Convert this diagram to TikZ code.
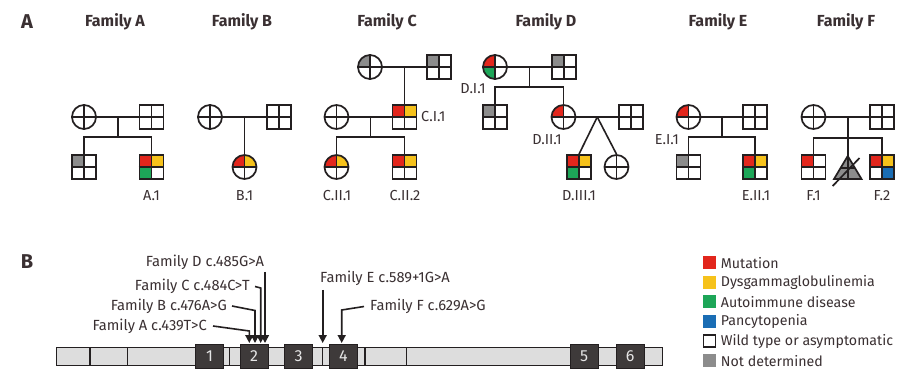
\documentclass[tikz,border=0pt]{standalone}
\usepackage{fontspec}
\setmainfont{Fira Sans}
\usetikzlibrary{arrows.meta,calc}
\definecolor{mut}{HTML}{E2261C}
\definecolor{dys}{HTML}{F6C21B}
\definecolor{aut}{HTML}{1DA658}
\definecolor{pan}{HTML}{1A6DB4}
\definecolor{nd}{HTML}{8C8C8C}
\definecolor{ink}{HTML}{231F20}
\definecolor{txt}{HTML}{3A3032}
\definecolor{exonc}{HTML}{3E3A3A}
\definecolor{intron}{HTML}{DDDDDD}
\tikzset{
  sym/.style={draw=ink, line width=1.7pt},
  psq/.style={sym, rectangle, minimum size=24pt, inner sep=0pt},
  pci/.style={sym, circle, minimum size=24pt, inner sep=0pt},
  con/.style={draw=ink, line width=1.6pt},
  lab/.style={text=txt, font=\fontsize{14.5}{16}\selectfont, inner sep=0pt},
  ttl/.style={text=txt, font=\fontsize{16}{18}\selectfont\bfseries, inner sep=0pt},
  pnl/.style={text=txt, font=\fontsize{20}{22}\selectfont\bfseries, inner sep=0pt},
  glab/.style={text=txt, font=\fontsize{14.7}{16}\selectfont, inner sep=0pt},
  arr/.style={draw=ink, line width=1.6pt, -{Triangle[length=8pt,width=8pt]}},
  exonbox/.style={draw=ink, line width=1pt, fill=exonc, text=white!90!black, minimum width=28pt, minimum height=24pt, inner sep=0pt, font=\fontsize{16}{16}\selectfont},
  legbox/.style={minimum size=13pt, inner sep=0pt},
  legtxt/.style={text=txt, font=\fontsize{14.2}{16}\selectfont, inner sep=0pt, anchor=west}
}
\newcommand{\PSq}[7]{%
  \fill[#4] (#2,#3) rectangle ++(-12,-12);
  \fill[#5] (#2,#3) rectangle ++(12,-12);
  \fill[#6] (#2,#3) rectangle ++(-12,12);
  \fill[#7] (#2,#3) rectangle ++(12,12);
  \node[psq] (#1) at (#2,#3) {};
  \draw[sym] (#1.north) -- (#1.south) (#1.west) -- (#1.east);
}
\newcommand{\PCi}[7]{%
  \fill[#4] (#2,#3) -- ++(-12,0) arc[start angle=180,end angle=270,radius=12] -- cycle;
  \fill[#5] (#2,#3) -- ++(0,-12) arc[start angle=270,end angle=360,radius=12] -- cycle;
  \fill[#6] (#2,#3) -- ++(0,12) arc[start angle=90,end angle=180,radius=12] -- cycle;
  \fill[#7] (#2,#3) -- ++(12,0) arc[start angle=0,end angle=90,radius=12] -- cycle;
  \node[pci] (#1) at (#2,#3) {};
  \draw[sym] (#1.north) -- (#1.south) (#1.west) -- (#1.east);
}
\begin{document}
\begin{tikzpicture}[x=1pt,y=-1pt]
\useasboundingbox (0,0) rectangle (900,374);
\fill[white] (0,0) rectangle (900,374);
% panel labels and titles
\node[pnl] (pA) at (27,22) {A};
\node[pnl] (pB) at (27,262) {B};
\node[ttl] (tA) at (115,22) {Family A};
\node[ttl] (tB) at (242,22) {Family B};
\node[ttl] (tC) at (387,22) {Family C};
\node[ttl] (tD) at (546,22) {Family D};
\node[ttl] (tE) at (718,22) {Family E};
\node[ttl] (tF) at (846,22) {Family F};
% ---------- Family A
\PCi{A1}{84}{117}{white}{white}{white}{white}
\PSq{A2}{151.5}{117}{white}{white}{white}{white}
\PSq{A3}{84}{167}{nd}{white}{white}{white}
\PSq{A4}{151.5}{167}{mut}{dys}{aut}{white}
\draw[con] (A1) -- (A2);
\coordinate (mA) at ($(A1)!0.5!(A2)$);
\coordinate (sA) at (117.75,137);
\draw[con] (mA) -- (sA);
\draw[con] (A3) |- (sA) -| (A4);
\node[lab] (lA) at (151.5,196) {A.1};
% ---------- Family B
\PCi{B1}{210}{117}{white}{white}{white}{white}
\PSq{B2}{279}{117}{white}{white}{white}{white}
\PCi{B3}{244.5}{167}{mut}{dys}{white}{white}
\draw[con] (B1) -- (B2);
\coordinate (mB) at ($(B1)!0.5!(B2)$);
\draw[con] (mB) -- (B3);
\node[lab] (lB) at (244.5,196) {B.1};
% ---------- Family C
\PCi{C1}{370}{67}{nd}{white}{white}{white}
\PSq{C2}{439}{67}{nd}{white}{white}{white}
\PCi{C4}{336.5}{117}{white}{white}{white}{white}
\PSq{C3}{404.5}{117}{mut}{dys}{white}{white}
\PCi{C5}{336.5}{167}{mut}{dys}{white}{white}
\PSq{C6}{404.5}{167}{mut}{dys}{white}{white}
\draw[con] (C1) -- (C2);
\coordinate (mC) at ($(C1)!0.5!(C2)$);
\draw[con] (mC) -- (C3);
\draw[con] (C4) -- (C3);
\coordinate (mC2) at ($(C4)!0.5!(C3)$);
\coordinate (sC) at (370.5,137);
\draw[con] (mC2) -- (sC);
\draw[con] (C5) |- (sC) -| (C6);
\node[lab, anchor=west] (lC1) at (421,117) {C.I.1};
\node[lab] (lC2) at (337,196) {C.II.1};
\node[lab] (lC3) at (405,196) {C.II.2};
% ---------- Family D
\PCi{D1}{495}{67}{mut}{white}{aut}{white}
\PSq{D2}{564}{67}{nd}{white}{white}{white}
\PSq{D3}{495}{117}{nd}{white}{white}{white}
\PCi{D4}{563.5}{117}{mut}{white}{white}{white}
\PSq{D5}{631}{117}{white}{white}{white}{white}
\PSq{D6}{579}{167}{mut}{dys}{aut}{white}
\PCi{D7}{616.5}{167}{white}{white}{white}{white}
\draw[con] (D1) -- (D2);
\coordinate (mD) at ($(D1)!0.5!(D2)$);
\coordinate (sD) at (529.5,87);
\draw[con] (mD) -- (sD);
\draw[con] (D3) |- (sD) -| (D4);
\draw[con] (D4) -- (D5);
\coordinate (tw) at ($(D4)!0.5!(D5)$);
\draw[con] (tw) -- (D6.north);
\draw[con] (tw) -- (D7.north);
\node[lab] (lD1) at (473,89) {D.I.1};
\node[lab] (lD2) at (547,140) {D.II.1};
\node[lab] (lD3) at (579,196) {D.III.1};
% ---------- Family E
\PCi{E1}{688.5}{117}{mut}{white}{white}{white}
\PSq{E2}{755}{117}{white}{white}{white}{white}
\PSq{E3}{688.5}{167}{nd}{white}{white}{white}
\PSq{E4}{755}{167}{mut}{dys}{aut}{white}
\draw[con] (E1) -- (E2);
\coordinate (mE) at ($(E1)!0.5!(E2)$);
\coordinate (sE) at (721.75,137);
\draw[con] (mE) -- (sE);
\draw[con] (E3) |- (sE) -| (E4);
\node[lab, anchor=east] (lE1) at (679,140) {E.I.1};
\node[lab] (lE2) at (756,196) {E.II.1};
% ---------- Family F
\PCi{F1}{813.5}{117}{white}{white}{white}{white}
\PSq{F2}{882}{117}{white}{white}{white}{white}
\PSq{F3}{813.5}{167}{mut}{white}{white}{white}
\PSq{F4}{882}{167}{mut}{dys}{white}{pan}
\coordinate (Fap) at (847.75,156);
\filldraw[sym, fill=nd] (Fap) -- (861.5,179) -- (834,179) -- cycle;
\draw[sym] (Fap) -- (847.75,179) (840.6,168) -- (854.9,168);
\draw[sym] (832.7,186) -- (859.5,158);
\draw[con] (F1) -- (F2);
\coordinate (mF) at ($(F1)!0.5!(F2)$);
\coordinate (sF) at (847.75,138);
\draw[con] (mF) -- (Fap);
\draw[con] (F3) |- (sF) -| (F4);
\node[lab] (lF1) at (813.5,196) {F.1};
\node[lab] (lF2) at (882,196) {F.2};
% ---------- Panel B gene
\filldraw[draw=ink, line width=1.1pt, fill=intron] (56.7,347.3) rectangle (662.7,365.7);
\foreach \xx in {90,127.7,229.3,322.7,365,406.7}
  \draw[ink, line width=1.1pt] (\xx,347.3) -- (\xx,365.7);
\node[exonbox] (X1) at (209.5,356) {1};
\node[exonbox] (X2) at (254.2,356) {2};
\node[exonbox] (X3) at (298.5,356) {3};
\node[exonbox] (X4) at (343.4,356) {4};
\node[exonbox] (X5) at (584.2,356) {5};
\node[exonbox] (X6) at (630.2,356) {6};
% mutation labels and arrows
\node[glab, anchor=east] (gA) at (207,326) {Family A c.439T>C};
\node[glab, anchor=east] (gB) at (227,306) {Family B c.476A>G};
\node[glab, anchor=east] (gC) at (250,286.5) {Family C c.484C>T};
\node[glab] (gD) at (205,262) {Family D c.485G>A};
\node[glab, anchor=west] (gE) at (320,278.5) {Family E c.589+1G>A};
\node[glab, anchor=west] (gF) at (370,306.5) {Family F c.629A>G};
\coordinate (kA) at (249.3,331);
\coordinate (eA) at (249.3,343);
\coordinate (kB) at (255,310.5);
\coordinate (eB) at (255,343);
\coordinate (kC) at (260.7,288);
\coordinate (eC) at (260.7,343);
\coordinate (kD) at (265,272);
\coordinate (eD) at (265,343);
\coordinate (kE) at (322.7,290);
\coordinate (eE) at (322.7,343);
\coordinate (kF) at (341.7,310);
\coordinate (eF) at (341.7,343);
\draw[arr] ([xshift=6pt]gA.east) -- (kA) -- (eA);
\draw[arr] ([xshift=5pt]gB.east) -- (kB) -- (eB);
\draw[arr] ([xshift=5pt]gC.east) -- (kC) -- (eC);
\draw[arr] (kD) -- (eD);
\draw[arr] (kE) -- (eE);
\draw[arr] ([xshift=-6pt]gF.west) -- (kF) -- (eF);
% legend
\node[legbox, fill=mut] (L1) at (709.7,262.7) {};
\node[legbox, fill=dys] (L2) at (709.7,282.3) {};
\node[legbox, fill=aut] (L3) at (709.7,301.9) {};
\node[legbox, fill=pan] (L4) at (709.7,321.5) {};
\node[legbox, draw=ink, line width=1.3pt, fill=white, minimum size=12pt] (L5) at (709.7,341.1) {};
\node[legbox, fill=nd] (L6) at (709.7,360.7) {};
\node[legtxt] at (720.7,262.7) {Mutation};
\node[legtxt] at (720.7,282.3) {Dysgammaglobulinemia};
\node[legtxt] at (720.7,301.9) {Autoimmune disease};
\node[legtxt] at (720.7,321.5) {Pancytopenia};
\node[legtxt] at (720.7,341.1) {Wild type or asymptomatic};
\node[legtxt] at (720.7,360.7) {Not determined};
\end{tikzpicture}
\end{document}
